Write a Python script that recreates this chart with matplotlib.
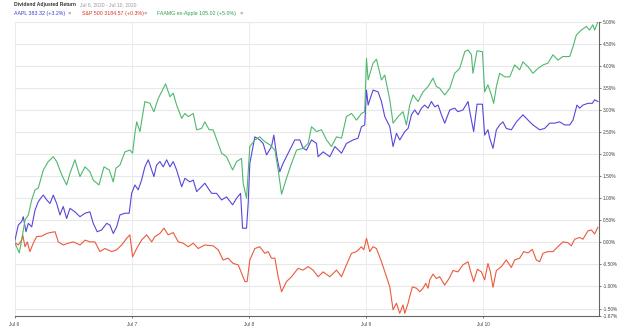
import matplotlib.pyplot as plt

plt.rcParams["font.family"] = ["Liberation Sans", "DejaVu Sans"]

# trading-day position (0 = Jul 6 open, 1 = Jul 7 open, ...) and return in %
day_labels = ["Jul 6", "Jul 7", "Jul 8", "Jul 9", "Jul 10"]
y_ticks = [-1.5, -1.0, -0.5, 0.0, 0.5, 1.0, 1.5, 2.0, 2.5, 3.0, 3.5, 4.0, 4.5, 5.0]
y_min, y_max = -1.67, 5.0

faamg_x = [0, 0.041, 0.061, 0.090, 0.118, 0.147, 0.175, 0.203, 0.246, 0.288, 0.331, 0.360,
           0.403, 0.445, 0.474, 0.516, 0.559, 0.602, 0.644, 0.672, 0.721, 0.764, 0.809, 0.843,
           0.866, 0.900, 0.943, 0.985, 1.008, 1.028, 1.043, 1.071, 1.113, 1.156, 1.190, 1.227,
           1.256, 1.290, 1.327, 1.355, 1.384, 1.427, 1.455, 1.483, 1.526, 1.555, 1.597, 1.625,
           1.662, 1.696, 1.768, 1.810, 1.862, 1.896, 1.938, 1.952, 1.981, 2.009, 2.052, 2.094,
           2.137, 2.180, 2.223, 2.251, 2.280, 2.322, 2.365, 2.408, 2.464, 2.507, 2.536, 2.578,
           2.621, 2.664, 2.706, 2.749, 2.792, 2.834, 2.877, 2.920, 2.962, 2.990, 3.005, 3.019,
           3.061, 3.090, 3.133, 3.161, 3.204, 3.232, 3.275, 3.317, 3.346, 3.374, 3.403, 3.445,
           3.488, 3.531, 3.573, 3.602, 3.630, 3.673, 3.716, 3.758, 3.801, 3.844, 3.872, 3.901,
           3.914, 3.949, 3.995, 4.014, 4.042, 4.071, 4.091, 4.114, 4.142, 4.185, 4.228, 4.270,
           4.313, 4.341, 4.384, 4.426, 4.469, 4.512, 4.554, 4.597, 4.640, 4.682, 4.740, 4.768,
           4.797, 4.839, 4.882, 4.910, 4.938, 4.953, 4.981]
faamg_y = [0, -0.24, 0.05, 0.51, 0.62, 0.96, 1.19, 1.23, 1.64, 1.83, 1.94, 1.83,
           1.53, 1.30, 1.57, 1.87, 1.49, 1.71, 1.60, 1.41, 1.30, 1.71, 1.64, 1.37,
           1.68, 1.75, 2.05, 2.09, 2.02, 2.47, 2.73, 2.51, 3.19, 3.15, 2.96, 3.26,
           3.41, 3.59, 3.30, 3.38, 3.11, 2.81, 2.92, 2.85, 2.92, 2.55, 2.58, 2.73,
           2.55, 2.55, 2.02, 1.94, 1.64, 1.83, 1.90, 1.34, 1.00, 2.17, 2.32, 2.39,
           2.28, 2.21, 2.09, 1.64, 1.09, 1.45, 1.79, 2.09, 2.13, 2.24, 2.62, 2.51,
           2.55, 2.32, 2.17, 2.39, 2.36, 2.85, 2.92, 2.77, 2.92, 2.96, 4.17, 3.68,
           4.06, 4.15, 3.68, 3.79, 3.23, 2.70, 2.85, 2.96, 2.66, 3.11, 3.34, 3.19,
           3.41, 3.53, 3.72, 3.53, 3.49, 3.34, 3.49, 3.83, 3.94, 4.32, 4.36, 4.25,
           3.83, 4.34, 4.32, 3.41, 3.57, 3.34, 3.15, 3.53, 3.83, 3.75, 3.75, 4.02,
           3.91, 4.09, 3.98, 3.83, 3.94, 4.02, 4.06, 4.25, 4.13, 4.21, 4.21, 4.43,
           4.70, 4.81, 4.89, 4.81, 4.93, 4.81, 5.00]

aapl_x = [0, 0.032, 0.061, 0.075, 0.098, 0.118, 0.147, 0.175, 0.203, 0.232, 0.246, 0.275,
          0.303, 0.331, 0.360, 0.388, 0.416, 0.445, 0.474, 0.516, 0.559, 0.602, 0.644, 0.672,
          0.706, 0.744, 0.787, 0.815, 0.843, 0.872, 0.900, 0.943, 0.979, 1.000, 1.028, 1.056,
          1.085, 1.113, 1.142, 1.171, 1.190, 1.213, 1.241, 1.270, 1.299, 1.327, 1.355, 1.384,
          1.427, 1.455, 1.497, 1.526, 1.555, 1.597, 1.625, 1.662, 1.683, 1.725, 1.768, 1.810,
          1.862, 1.896, 1.930, 1.947, 1.981, 1.995, 2.009, 2.052, 2.094, 2.123, 2.152, 2.194,
          2.214, 2.237, 2.265, 2.293, 2.336, 2.393, 2.436, 2.464, 2.493, 2.536, 2.578, 2.592,
          2.635, 2.692, 2.735, 2.792, 2.834, 2.891, 2.933, 2.962, 2.990, 3.005, 3.019, 3.048,
          3.061, 3.104, 3.133, 3.161, 3.204, 3.232, 3.261, 3.289, 3.332, 3.360, 3.389, 3.417,
          3.445, 3.474, 3.502, 3.531, 3.559, 3.588, 3.616, 3.645, 3.673, 3.716, 3.758, 3.786,
          3.829, 3.872, 3.892, 3.920, 3.949, 3.995, 4.014, 4.042, 4.057, 4.085, 4.114, 4.142,
          4.170, 4.199, 4.242, 4.285, 4.341, 4.384, 4.426, 4.484, 4.526, 4.569, 4.611, 4.654,
          4.697, 4.740, 4.768, 4.802, 4.825, 4.853, 4.896, 4.933, 4.953, 4.981]
aapl_y = [0, 0.39, 0.47, 0.58, 0.24, 0.43, 0.35, 0.73, 0.92, 1.03, 1.07, 0.96,
          0.88, 1.07, 0.88, 0.62, 0.81, 0.54, 0.77, 0.69, 0.58, 0.66, 0.69, 0.43,
          0.24, 0.28, 0.43, 0.39, 0.20, 0.35, 0.62, 0.66, 0.66, 1.11, 1.30, 1.19,
          1.41, 1.71, 1.87, 1.64, 1.49, 1.75, 1.83, 1.71, 1.87, 1.71, 1.83, 1.64,
          1.26, 1.45, 1.37, 1.41, 1.15, 1.26, 1.34, 1.19, 1.11, 1.11, 0.96, 1.03,
          0.85, 1.00, 1.11, 0.32, 0.32, 0.88, 1.79, 2.39, 2.32, 2.24, 1.98, 2.17,
          2.43, 1.98, 1.60, 1.79, 2.02, 2.32, 2.32, 2.13, 2.09, 2.32, 2.24, 1.94,
          2.05, 1.94, 2.17, 2.02, 2.24, 2.32, 2.36, 2.62, 2.66, 3.45, 3.11, 3.34,
          3.45, 3.41, 3.19, 2.85, 2.62, 2.17, 2.47, 2.32, 2.51, 2.58, 2.89, 3.00,
          2.89, 3.04, 3.11, 3.04, 3.19, 3.07, 3.11, 2.89, 2.70, 3.00, 3.04, 2.96,
          3.00, 3.19, 2.89, 2.51, 3.13, 3.13, 2.43, 2.55, 2.36, 2.13, 2.55, 2.66,
          2.73, 2.58, 2.55, 2.73, 2.89, 2.77, 2.66, 2.55, 2.58, 2.70, 2.70, 2.73,
          2.66, 2.66, 2.77, 3.11, 3.04, 3.11, 3.15, 3.15, 3.23, 3.19]

spx_x = [0, 0.032, 0.061, 0.070, 0.090, 0.109, 0.132, 0.160, 0.189, 0.232, 0.275, 0.303,
         0.346, 0.374, 0.416, 0.459, 0.502, 0.559, 0.602, 0.644, 0.687, 0.729, 0.772, 0.829,
         0.872, 0.915, 0.957, 0.985, 1.008, 1.043, 1.085, 1.128, 1.171, 1.199, 1.241, 1.276,
         1.312, 1.355, 1.398, 1.440, 1.483, 1.526, 1.568, 1.625, 1.696, 1.739, 1.781, 1.824,
         1.867, 1.910, 1.938, 1.967, 1.986, 2.009, 2.052, 2.094, 2.137, 2.165, 2.194, 2.223,
         2.251, 2.280, 2.322, 2.365, 2.421, 2.464, 2.507, 2.549, 2.592, 2.635, 2.692, 2.749,
         2.792, 2.834, 2.877, 2.920, 2.962, 2.982, 3.005, 3.033, 3.061, 3.090, 3.133, 3.176,
         3.204, 3.232, 3.261, 3.289, 3.317, 3.332, 3.360, 3.374, 3.397, 3.432, 3.460, 3.488,
         3.511, 3.531, 3.545, 3.573, 3.602, 3.630, 3.673, 3.710, 3.744, 3.786, 3.829, 3.872,
         3.892, 3.920, 3.952, 3.986, 4.014, 4.042, 4.063, 4.085, 4.114, 4.157, 4.199, 4.242,
         4.270, 4.313, 4.347, 4.384, 4.421, 4.455, 4.484, 4.512, 4.554, 4.597, 4.640, 4.682,
         4.725, 4.754, 4.782, 4.825, 4.853, 4.896, 4.925, 4.953, 4.981]
spx_y = [0, -0.06, 0.05, 0.17, -0.10, 0.01, -0.21, -0.02, 0.13, 0.14, 0.20, 0.22,
         0.24, 0.01, -0.06, -0.02, 0.01, -0.06, 0.05, 0.01, 0.01, -0.21, -0.14, -0.21,
         -0.17, -0.06, 0.09, 0.17, -0.33, -0.14, 0.05, 0.17, 0.01, 0.13, 0.20, 0.32,
         0.17, 0.22, 0.01, -0.02, -0.10, -0.02, -0.14, -0.06, -0.08, -0.17, -0.40, -0.36,
         -0.48, -0.51, -0.70, -0.89, -0.89, -0.40, -0.14, -0.10, -0.25, -0.21, -0.36, -0.36,
         -0.78, -1.12, -0.89, -0.78, -0.59, -0.63, -0.55, -0.63, -0.78, -0.67, -0.78, -0.63,
         -0.78, -0.51, -0.25, -0.21, -0.10, -0.17, 0.09, -0.21, -0.10, -0.14, -0.44, -0.78,
         -1.01, -1.53, -1.38, -1.61, -1.42, -1.61, -1.38, -1.23, -1.01, -1.04, -1.12, -1.04,
         -0.93, -1.04, -0.85, -0.72, -0.82, -0.78, -0.97, -0.82, -0.64, -0.67, -0.51, -0.44,
         -0.64, -0.89, -0.61, -0.67, -0.85, -0.48, -0.67, -1.02, -0.64, -0.55, -0.40, -0.57,
         -0.40, -0.36, -0.21, -0.24, -0.16, -0.40, -0.44, -0.25, -0.21, -0.21, -0.10, 0.01,
         -0.01, -0.08, 0.07, 0.11, 0.07, 0.26, 0.28, 0.19, 0.34]

BLUE = "#5548d9"
RED = "#ec5a3c"
GREEN = "#4fb86e"
GRID = "#e8e8e8"
AXIS = "#666666"

fig = plt.figure(figsize=(6.2, 3.3), dpi=100)
ax = fig.add_axes([0.0234, 0.0424, 0.9427, 0.8919])

ax.plot(spx_x, spx_y, color=RED, lw=0.8)
ax.plot(aapl_x, aapl_y, color=BLUE, lw=0.8)
ax.plot(faamg_x, faamg_y, color=GREEN, lw=0.8)

ax.set_xlim(0, 4.99)
ax.set_ylim(y_min, y_max)

# gridlines
for t in y_ticks:
    ax.axhline(t, color=GRID, lw=0.8, zorder=0)
for i in range(len(day_labels)):
    ax.axvline(i, color=GRID, lw=0.6, zorder=0)

ax.yaxis.tick_right()
ax.set_yticks(y_ticks + [y_min])
ax.set_yticklabels([f"{t:.2f}%" for t in y_ticks] + [f"{y_min:.2f}%"])
ax.set_xticks(range(len(day_labels)))
ax.set_xticklabels(day_labels)
ax.tick_params(axis="both", labelsize=3.4, colors=AXIS, labelcolor="#444444",
               length=1.6, width=0.6, pad=1.2)
ax.tick_params(axis="x", pad=3)

for s in ["top", "left"]:
    ax.spines[s].set_visible(False)
ax.spines["right"].set_color(AXIS)
ax.spines["bottom"].set_color(AXIS)
ax.spines["right"].set_linewidth(0.8)
ax.spines["bottom"].set_linewidth(0.8)

# header
fig.text(0.0226, 0.985, "Dividend Adjusted Return", fontsize=3.6, color="#333333",
         fontweight="bold", va="center")
fig.text(0.129, 0.985, "Jul 6, 2020 - Jul 10, 2020", fontsize=3.6, color="#999999", va="center")
fig.text(0.0226, 0.960, "AAPL 383.32 (+3.2%)", fontsize=3.8, color="#3a3ad0", va="center")
fig.text(0.1097, 0.960, "\u00d7", fontsize=4.2, color="#666666", va="center")
fig.text(0.1318, 0.960, "S&P 500 3184.57 (+0.3%)", fontsize=3.8, color="#e0321e", va="center")
fig.text(0.2323, 0.960, "\u00d7", fontsize=4.2, color="#666666", va="center")
fig.text(0.2537, 0.960, "FAAMG ex-Apple 105.02 (+5.0%)", fontsize=3.8, color="#2f9e4a", va="center")
fig.text(0.386, 0.960, "\u00d7", fontsize=4.2, color="#666666", va="center")

fig.savefig("out.png", dpi=100)
